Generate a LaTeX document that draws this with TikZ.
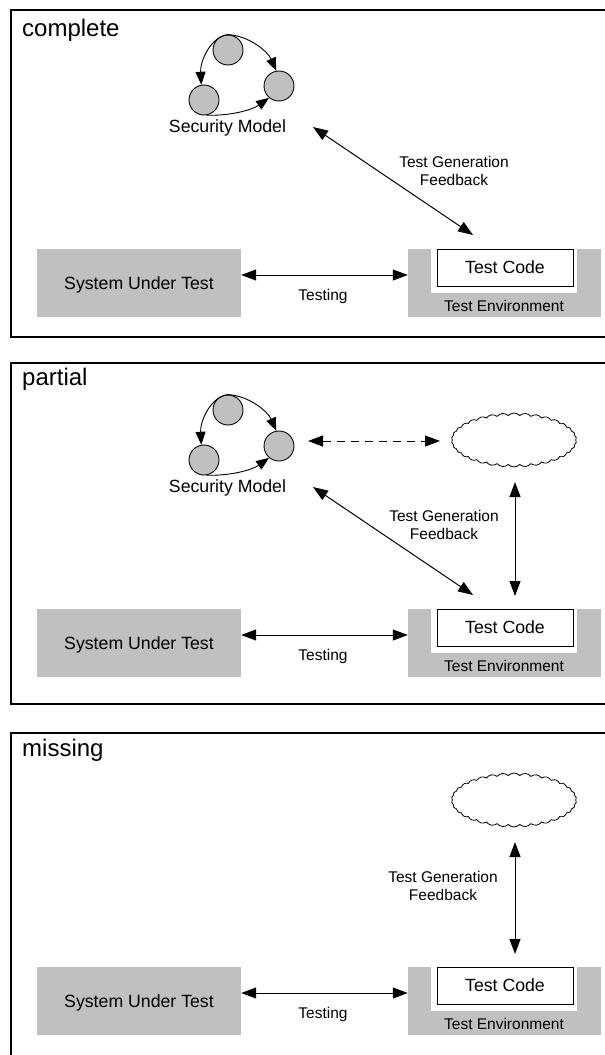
\documentclass[tikz,border=0pt]{standalone}
\usepackage{fontspec}
\setmainfont{Liberation Sans}
\usetikzlibrary{arrows.meta,shapes.symbols}
\definecolor{boxgray}{RGB}{192,192,192}
\tikzset{
  frame/.style={draw=black, line width=1.3pt},
  graybox/.style={fill=boxgray, draw=none, inner sep=0pt},
  big/.style={font=\fontsize{17.7}{20}\selectfont, inner sep=0pt},
  small/.style={font=\fontsize{15.5}{18}\selectfont, inner sep=0pt},
  title/.style={font=\fontsize{24}{28}\selectfont, inner sep=0pt, anchor=base west},
  dblarrow/.style={line width=1pt, {Triangle[length=15pt,width=11pt]}-{Triangle[length=15pt,width=11pt]}},
  dasharrow/.style={dblarrow, dash pattern=on 8pt off 6pt},
  cirarrow/.style={line width=0.9pt, -{Triangle[length=13pt,width=10pt]}},
  state/.style={circle, draw=black, line width=0.9pt, fill=boxgray, minimum size=30pt, inner sep=0pt},
  cloudshape/.style={cloud, draw=black, line width=0.8pt, cloud puffs=34, cloud puff arc=95,
    cloud ignores aspect, minimum width=125pt, minimum height=54pt, inner sep=0pt},
}
\newcommand{\secmodel}[2]{%
  \node[state] (#1a) at (228,{50+#2}) {};
  \node[state] (#1b) at (204,{100+#2}) {};
  \node[state] (#1c) at (279,{86+#2}) {};
  \draw[cirarrow] (#1a.north) .. controls (210,{37+#2}) and (200,{62+#2}) .. (#1b.100);
  \draw[cirarrow] (#1a.north) .. controls (250,{36+#2}) and (268,{52+#2}) .. (#1c.100);
  \draw[cirarrow] (#1b.-80) .. controls (230,{116+#2}) and (252,{110+#2}) .. (#1c.230);
  \node[big, anchor=base] (#1lbl) at (227.5,{132+#2}) {Security Model};
}
\newcommand{\bottomrow}[2]{%
  \node[graybox, minimum width=204pt, minimum height=68pt, big, text height=12.8pt, text depth=0pt]
    (#1sut) at (139,{283+#2}) {System Under Test};
  \node[graybox, minimum width=193pt, minimum height=68pt] (#1te) at (504.5,{283+#2}) {};
  \fill[white] (431,{248.5+#2}) rectangle (577,{293+#2});
  \node[draw=black, fill=white, line width=0.9pt, minimum width=136pt, minimum height=37pt, big,
    text height=12.8pt, text depth=0pt] (#1tc) at (505,{267.5+#2}) {Test Code};
  \node[small, anchor=base] (#1tel) at (504,{311+#2}) {Test Environment};
  \coordinate (#1ya) at (0,{275+#2});
  \draw[dblarrow] (#1sut.east |- #1ya) -- (#1te.west |- #1ya);
  \node[small, anchor=base] (#1tl) at (323,{300+#2}) {Testing};
}
\begin{document}
\begin{tikzpicture}[x=1pt, y=-1pt]
\path[use as bounding box] (0,0) rectangle (605,1055);
\clip (0,0) rectangle (605,1055);

% ---------- complete ----------
\draw[frame] (11,10) rectangle (640,337);
\node[title] (t1) at (22,36) {complete};
\secmodel{m1}{0}
\coordinate (g1s) at (313,127);
\coordinate (g1e) at (473,235);
\draw[dblarrow] (g1s) -- (g1e);
\node[small, anchor=base] (f1a) at (454,167) {Test Generation};
\node[small, anchor=base] (f1b) at (454,185) {Feedback};
\bottomrow{r1}{0}

% ---------- partial ----------
\draw[frame] (11,363) rectangle (640,704);
\node[title] (t2) at (22,385) {partial};
\secmodel{m2}{360}
\node[cloudshape] (c2) at (514,440) {};
\coordinate (d2s) at (308,441);
\coordinate (d2e) at (440,441);
\draw[dasharrow] (d2s) -- (d2e);
\coordinate (v2s) at (515,482);
\coordinate (v2e) at (515,596);
\draw[dblarrow] (v2s) -- (v2e);
\coordinate (g2s) at (313,487);
\coordinate (g2e) at (473,595);
\draw[dblarrow] (g2s) -- (g2e);
\node[small, anchor=base] (f2a) at (444,521) {Test Generation};
\node[small, anchor=base] (f2b) at (444,539) {Feedback};
\bottomrow{r2}{360}

% ---------- missing ----------
\draw[frame] (11,733) rectangle (640,1070);
\node[title] (t3) at (22,756) {missing};
\node[cloudshape] (c3) at (514,800) {};
\coordinate (v3s) at (515,842);
\coordinate (v3e) at (515,954);
\draw[dblarrow] (v3s) -- (v3e);
\node[small, anchor=base] (f3a) at (443,882) {Test Generation};
\node[small, anchor=base] (f3b) at (443,900) {Feedback};
\bottomrow{r3}{718}
\end{tikzpicture}
\end{document}
